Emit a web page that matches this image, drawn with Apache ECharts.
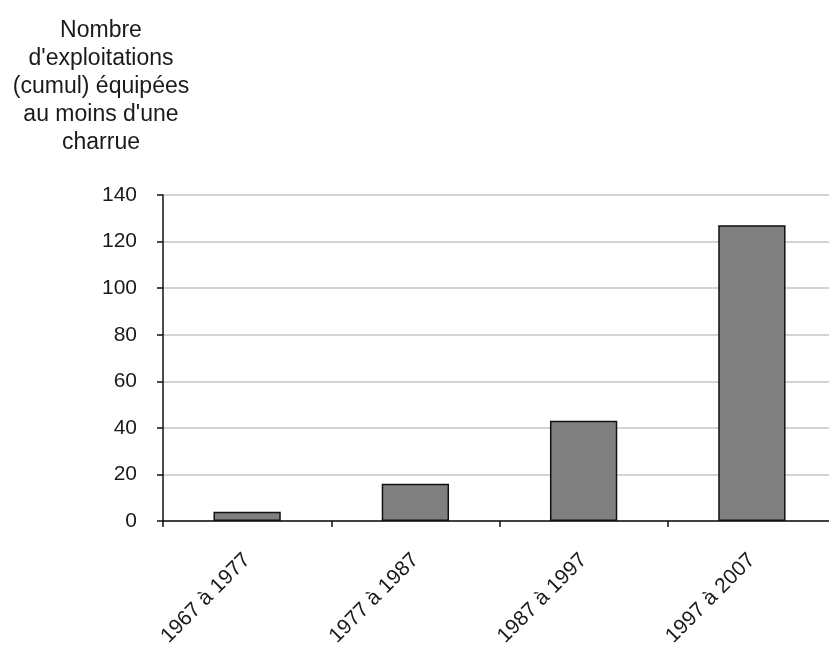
<!DOCTYPE html>
<html>
<head>
<meta charset="utf-8">
<script src="https://cdn.jsdelivr.net/npm/echarts@6/dist/echarts.min.js"></script>
<style>
html,body{margin:0;padding:0;background:#fff;}
#chart{width:829px;height:649px;}
</style>
</head>
<body>
<div id="chart"></div>
<script>
var categories = ['1967 à 1977', '1977 à 1987', '1987 à 1997', '1997 à 2007'];
var values = [4, 16, 43, 127];
var yTitle = "Nombre\nd'exploitations\n(cumul) équipées\nau moins d'une\ncharrue";

var chart = echarts.init(document.getElementById('chart'), null, {renderer: 'canvas'});
var font = '"Liberation Sans", Arial, sans-serif';
chart.setOption({
  animation: false,
  backgroundColor: '#ffffff',
  graphic: [{
    type: 'text',
    x: 101,
    y: 17,
    style: {
      text: yTitle,
      align: 'center',
      verticalAlign: 'top',
      fontFamily: font,
      fontSize: 23,
      lineHeight: 28,
      fill: '#1a1a1a'
    }
  }],
  grid: {left: 163, width: 673, top: 195, height: 326, containLabel: false, outerBoundsMode: 'none'},
  xAxis: {
    type: 'category',
    data: categories,
    boundaryGap: true,
    axisLine: {lineStyle: {color: '#111', width: 1.5}},
    axisTick: {show: true, length: 6, lineStyle: {color: '#111', width: 1.5}},
    axisLabel: {rotate: 45, margin: 36, fontFamily: font, fontSize: 21, color: '#1a1a1a', interval: 0},
    splitLine: {show: false}
  },
  yAxis: {
    type: 'value',
    min: 0,
    max: 140,
    interval: 20,
    axisLine: {show: true, lineStyle: {color: '#111', width: 1.5}},
    axisTick: {show: true, length: 6, lineStyle: {color: '#111', width: 1.5}},
    axisLabel: {margin: 26, fontFamily: font, fontSize: 21, color: '#1a1a1a'},
    splitLine: {show: true, lineStyle: {color: '#c4c4c4', width: 1.5}}
  },
  series: [{
    type: 'bar',
    data: values,
    barWidth: '40%',
    itemStyle: {color: '#808080', borderColor: '#111', borderWidth: 1.5}
  }]
});
</script>
</body>
</html>
